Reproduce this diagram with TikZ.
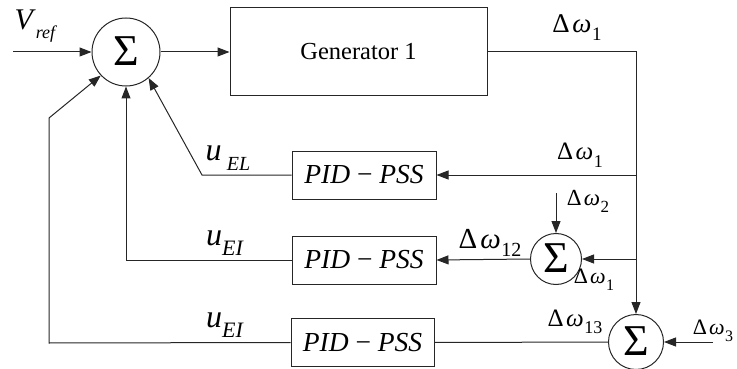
\documentclass[tikz,border=0pt]{standalone}
\usepackage{fontspec}
\setmainfont{Liberation Serif}
\usetikzlibrary{arrows.meta}

% Delta-omega label: #1 main size, #2 subscript size, #3 subscript
\newcommand{\dwlab}[3]{{\fontsize{#1}{#1}\selectfont Δ\kern0.1em\textit{ω}\kern0.02em\raisebox{-0.3em}{\fontsize{#2}{#2}\selectfont #3}}}
% italic symbol with italic subscript: #1 main size, #2 sub size, #3 symbol, #4 subscript
\newcommand{\sublab}[4]{{\fontsize{#1}{#1}\selectfont\textit{#3}\raisebox{-0.32em}{\fontsize{#2}{#2}\selectfont\textit{#4}}}}

\begin{document}
\begin{tikzpicture}[x=1pt,y=-1pt,
  wire/.style={draw=black!85,line width=1pt},
  arr/.style={wire,-{Triangle[length=12pt,width=9pt]}},
  sumnode/.style={circle,draw=black!85,line width=1pt,inner sep=0pt,
     minimum size=#1,font=\fontsize{44}{44}\selectfont},
  block/.style={draw=black!85,line width=1pt,inner sep=0pt},
  pid/.style={block,minimum width=144pt,minimum height=48pt,
     font=\fontsize{27.5}{27.5}\selectfont},
  lab/.style={inner sep=0pt}
]
\useasboundingbox (0,0) rectangle (737,369);

% summing junctions
\node[sumnode=68pt] (s1) at (126,52) {\raisebox{0.04em}{Σ}};
\node[sumnode=51pt] (s2) at (556,259) {\raisebox{0.04em}{Σ}};
\node[sumnode=55pt] (s3) at (636,342) {\raisebox{0.04em}{Σ}};

% generator and controller blocks
\node[block,minimum width=257pt,minimum height=88pt,
      font=\fontsize{24.5}{24.5}\selectfont] (gen) at (358.5,52) {Generator 1};
\node[pid] (pid1) at (364,175) {\textit{PID} − \textit{PSS}};
\node[pid] (pid2) at (364,260) {\textit{PID} − \textit{PSS}};
\node[pid,minimum width=143pt] (pid3) at (362.5,342.5) {\textit{PID} − \textit{PSS}};

% free ends and bends
\coordinate (vin) at (13,52);
\coordinate (cr) at (636,52);
\coordinate (j1) at (637,175);
\coordinate (j2) at (637,259);
\coordinate (w2in) at (556,193);
\coordinate (w3in) at (713,342);
\coordinate (b1) at (202,175);
\coordinate (b2) at (126,260);
\coordinate (b3a) at (49,343);
\coordinate (b3b) at (49,118);

% forward path
\draw[arr] (vin) -- (s1.west);
\draw[arr] (s1.east) -- (gen.west);
\draw[arr] (gen.east) -- (cr) -- (s3.north);

% controller loops
\draw[arr] (j1) -- (pid1.east);
\draw[arr] (pid1.west) -- (b1) -- (s1.-49);
\draw[arr] (s2.west) -- (pid2.east);
\draw[arr] (pid2.west) -- (b2) -- (s1.south);
\draw[wire] (s3.west) -- (pid3.east);
\draw[arr] (pid3.west) -- (b3a) -- (b3b) -- (s1.-137);

% speed deviation inputs
\draw[arr] (w2in) -- (s2.north);
\draw[arr] (j2) -- (s2.east);
\draw[arr] (w3in) -- (s3.east);

% labels
\node[lab] (lvref) at (36,26) {\sublab{30}{18}{V}{ref}};
\node[lab] (lw1a) at (577,28) {\dwlab{27}{19}{1}};
\node[lab] (lw1b) at (580,155) {\dwlab{25}{18}{1}};
\node[lab] (luel) at (228,158) {\sublab{32}{20}{u\,}{EL}};
\node[lab] (lw2) at (588,201) {\dwlab{23}{17}{2}};
\node[lab] (lw12) at (490,243) {\dwlab{29}{20}{12}};
\node[lab] (lw1c) at (594,280) {\dwlab{22}{16}{1}};
\node[lab] (luei2) at (225,243) {\sublab{32}{22}{u}{EI}};
\node[lab] (luei3) at (225,325) {\sublab{32}{22}{u}{EI}};
\node[lab] (lw13) at (575,322) {\dwlab{25}{18}{13}};
\node[lab] (lw3) at (713,331) {\dwlab{22}{16}{3}};
\end{tikzpicture}
\end{document}
